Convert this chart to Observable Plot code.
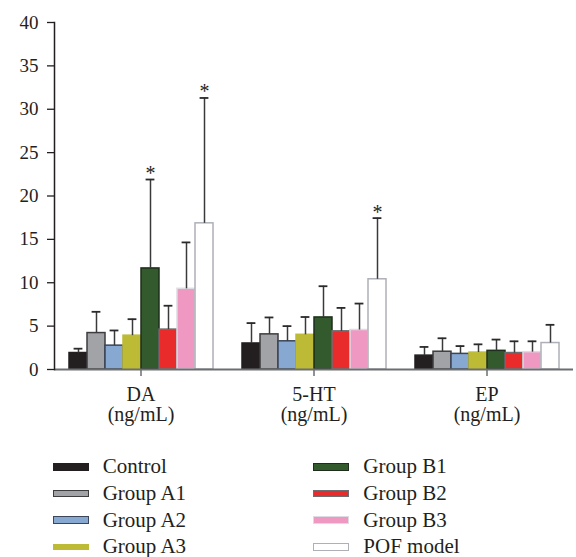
<!DOCTYPE html>
<html>
<head>
<meta charset="utf-8">
<script src="https://cdn.jsdelivr.net/npm/d3@7"></script>
<script src="https://cdn.jsdelivr.net/npm/@observablehq/plot@0.6"></script>
<style>
  html, body { margin: 0; padding: 0; background: #fff; }
  #chart { width: 576px; }
  #chart svg, #chart svg text { font-family: "Liberation Serif", "DejaVu Serif", serif !important; }
  .legend {
    display: grid;
    grid-template-columns: 260.6px 260px;
    grid-template-rows: repeat(4, 26.6px);
    grid-auto-flow: column;
    padding-left: 52.7px;
    padding-top: 13.7px;
    font-family: "Liberation Serif", "DejaVu Serif", serif;
    font-size: 21px;
    color: #231f20;
  }
  .item { display: flex; align-items: center; height: 26.6px; white-space: nowrap; }
  .sw { width: 36px; height: 7.5px; box-sizing: border-box; border: 1.5px solid; margin-right: 14px; }
</style>
</head>
<body>
<div id="chart"></div>
<script>
const groups = ["DA", "5-HT", "EP"];
const unit = "(ng/mL)";
const series = ["Control", "Group A1", "Group A2", "Group A3", "Group B1", "Group B2", "Group B3", "POF model"];
const fills   = ["#231f20", "#a1a3a6", "#86a8d1", "#bdbb35", "#335a2d", "#ea2b2b", "#ef98c1", "#ffffff"];
const strokes = ["#231f20", "#3d3d3f", "#3b4658", "#bdbb35", "#1f2e1c", "#6d6e71", "#dcdce2", "#aeb0b7"];

// means and SD (upper error bar minus mean)
const daMean = [1.9, 4.2, 2.75, 3.9, 11.65, 4.6, 9.3, 16.85];
const daSD   = [0.5, 2.45, 1.75, 1.9, 10.25, 2.75, 5.35, 14.45];
const htMean = [3.0, 4.05, 3.25, 4.0, 6.0, 4.4, 4.55, 10.4];
const htSD   = [2.35, 1.95, 1.75, 2.05, 3.6, 2.7, 3.05, 7.05];
const epMean = [1.6, 2.05, 1.8, 1.95, 2.15, 1.9, 2.0, 3.05];
const epSD   = [1.0, 1.55, 0.9, 0.95, 1.3, 1.35, 1.25, 2.1];
const stars  = [["Group B1", "POF model"], ["POF model"], []];
const yTicks = [0, 5, 10, 15, 20, 25, 30, 35, 40];

const means = [daMean, htMean, epMean];
const sds = [daSD, htSD, epSD];
const rows = groups.flatMap((g, gi) => series.map((s, si) => ({
  group: g, series: s, mean: means[gi][si], sd: sds[gi][si],
  top: means[gi][si] + sds[gi][si],
  star: stars[gi].includes(s), fill: fills[si], stroke: strokes[si]
})));

const font = "Liberation Serif";
const chart = Plot.plot({
  width: 576, height: 440,
  marginTop: 22, marginBottom: 71, marginLeft: 53, marginRight: 2,
  style: { fontFamily: font, color: "#231f20", background: "white" },
  fx: { domain: groups, padding: 0 },
  x: { domain: series, paddingInner: 0, paddingOuter: 0.76, axis: null },
  y: { domain: [0, 40], axis: null },
  color: { type: "identity" },
  marks: [
    Plot.barY(rows, { fx: "group", x: "series", y: "mean", fill: "fill", stroke: "stroke", strokeWidth: 1.5 }),
    Plot.ruleX(rows, { fx: "group", x: "series", y1: "mean", y2: "top", stroke: "#3a3a3c", strokeWidth: 1.5 }),
    Plot.tickY(rows, { fx: "group", x: "series", y: "top", insetLeft: 4.6, insetRight: 4.6, stroke: "#2a2a2c", strokeWidth: 1.8 }),
    Plot.text(rows.filter(d => d.star), { fx: "group", x: "series", y: "top", text: () => "*", dy: -6, fontSize: 20, fontFamily: font, fill: "#231f20" }),
    Plot.ruleY([0], { stroke: "#6d6e71", strokeWidth: 2 }),
    Plot.frame({ anchor: "left", facetAnchor: "left", stroke: "#231f20", strokeWidth: 1.5 }),
    Plot.axisY({ ticks: yTicks, tickSize: 7, tickPadding: 9, fontSize: 19, fontFamily: font, tickFormat: d => d, stroke: "#231f20", strokeWidth: 1.3 }),
    Plot.axisFx({ anchor: "bottom", tickSize: 7, tickPadding: 10, fontSize: 20, fontFamily: font, stroke: "#6d6e71", strokeWidth: 1.5, label: null }),
    Plot.axisFx({ anchor: "bottom", tickSize: 0, tickPadding: 37, fontSize: 20, fontFamily: font, tickFormat: () => unit, label: null })
  ]
});
document.getElementById("chart").appendChild(chart);

const legend = document.createElement("div");
legend.className = "legend";
series.forEach((s, i) => {
  const item = document.createElement("div");
  item.className = "item";
  const sw = document.createElement("span");
  sw.className = "sw";
  sw.style.background = fills[i];
  sw.style.borderColor = strokes[i];
  if (i === 3) { sw.style.height = "6px"; }
  const label = document.createElement("span");
  label.textContent = s;
  item.appendChild(sw);
  item.appendChild(label);
  legend.appendChild(item);
});
document.getElementById("chart").appendChild(legend);
</script>
</body>
</html>
